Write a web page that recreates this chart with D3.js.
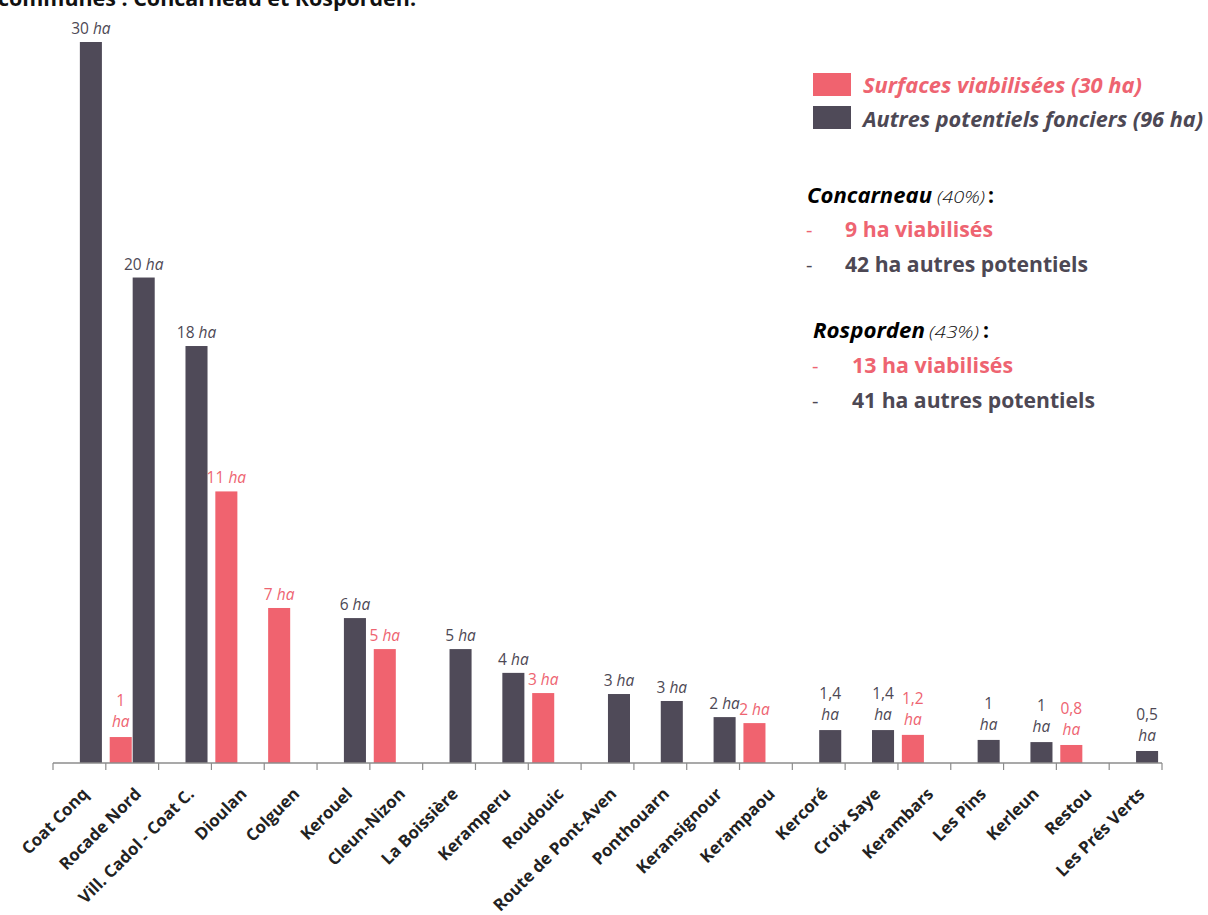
<!DOCTYPE html>
<html><head><meta charset="utf-8">
<script src="https://cdn.jsdelivr.net/npm/d3@7"></script>
<style>
html,body{margin:0;padding:0;background:#fff;}
svg{display:block;}
text{font-family:"Open Sans","Noto Sans",sans-serif;}
</style></head>
<body>
<svg id="chart" width="1208" height="915"></svg>
<script>
const categories = ["Coat Conq","Rocade Nord","Vill. Cadol - Coat C.","Dioulan","Colguen","Kerouel","Cleun-Nizon","La Boissière","Keramperu","Roudouic","Route de Pont-Aven","Ponthouarn","Keransignour","Kerampaou","Kercoré","Croix Saye","Kerambars","Les Pins","Kerleun","Restou","Les Prés Verts"];
// Surfaces viabilisées (pink)
const viabilisees = [null,1.08,null,11.3,6.45,null,4.74,null,null,2.91,null,null,null,1.66,null,null,1.17,null,null,0.75,null];
const viabLabels  = ["","1","","11","7","","5","","","3","","","","2","","","1,2","","","0,8",""];
// Autres potentiels fonciers (dark)
const autres = [30,20.2,17.35,null,null,6.03,null,4.74,3.75,null,2.87,2.58,1.91,null,1.37,1.37,null,0.96,0.87,null,0.5];
const autresLabels = ["30","20","18","","","6","","5","4","","3","3","2","","1,4","1,4","","1","1","","0,5"];
const yDomain = [0, 30];
const legendItems = ["Surfaces viabilisées (30 ha)","Autres potentiels fonciers (96 ha)"];

const PINK = "#f0636f", DARK = "#4f4a58";
const PINK_TXT = "#ee6471", DARK_TXT = "#4d4854";

const svg = d3.select("#chart");

// title (cut off at top, as in the source image)
svg.append("text").attr("x", -2).attr("y", 6)
  .attr("font-size", 22).attr("font-weight", 700).attr("fill", "#111")
  .attr("textLength", 418).attr("lengthAdjust", "spacingAndGlyphs")
  .text("communes : Concarneau et Rosporden.");

const x = d3.scaleBand().domain(categories).range([53, 1162]).padding(0);
const sub = d3.scaleBand().domain(["viab","autres"]).range([0, x.bandwidth()]).paddingInner(0.04).paddingOuter(0.17);
const y = d3.scaleLinear().domain(yDomain).range([763, 42]);

const rows = categories.map((c, i) => ({c, i}));

function drawSeries(values, labels, key, color, txtColor) {
  const data = rows.filter(r => values[r.i] != null).map(r => ({c: r.c, v: values[r.i], lab: labels[r.i]}));
  svg.append("g").selectAll("rect").data(data).join("rect")
    .attr("x", d => x(d.c) + sub(key))
    .attr("width", sub.bandwidth())
    .attr("y", d => y(d.v))
    .attr("height", d => y(0) - y(d.v))
    .attr("fill", color);
  const g = svg.append("g").attr("fill", txtColor).attr("font-size", 15.5).attr("text-anchor", "middle");
  data.forEach(d => {
    const cx = x(d.c) + sub(key) + sub.bandwidth() / 2;
    const top = y(d.v);
    if (d.v < 1.5 && d.lab !== "2") {
      g.append("text").attr("x", cx).attr("y", top - 31).text(d.lab);
      g.append("text").attr("x", cx).attr("y", top - 10).attr("font-style", "italic").text("ha");
    } else {
      const t = g.append("text").attr("x", cx).attr("y", top - 8);
      t.append("tspan").text(d.lab + " ");
      t.append("tspan").attr("font-style", "italic").text("ha");
    }
  });
}
drawSeries(autres, autresLabels, "autres", DARK, DARK_TXT);
drawSeries(viabilisees, viabLabels, "viab", PINK, PINK_TXT);

// axis with ticks at band boundaries
const axis = svg.append("g").attr("stroke", "#8c8c8c");
axis.append("line").attr("x1", x.range()[0]).attr("x2", x.range()[1]).attr("y1", y(0)).attr("y2", y(0)).attr("stroke-width", 1.5);
const bounds = categories.map(c => x(c)).concat([x.range()[1]]);
axis.selectAll("line.t").data(bounds).join("line").attr("class", "t")
  .attr("x1", d => d).attr("x2", d => d).attr("y1", y(0)).attr("y2", y(0) + 7).attr("stroke-width", 1.2);

// rotated category labels
svg.append("g").selectAll("text").data(categories).join("text")
  .attr("transform", c => `translate(${x(c) + x.bandwidth() / 2 + 10},${y(0) + 32}) rotate(-45)`)
  .attr("text-anchor", "end").attr("font-size", 16.8).attr("font-weight", 700).attr("fill", "#222")
  .text(c => c);

// legend
const legColors = [PINK, DARK], legTxt = [PINK_TXT, DARK_TXT], legW = [279, 340];
legendItems.forEach((t, i) => {
  svg.append("rect").attr("x", 813).attr("y", 73 + i * 33).attr("width", 38).attr("height", 23).attr("fill", legColors[i]);
  svg.append("text").attr("x", 863).attr("y", 93 + i * 34).attr("font-size", 20.5).attr("font-weight", 700)
    .attr("font-style", "italic").attr("fill", legTxt[i])
    .attr("textLength", legW[i]).attr("lengthAdjust", "spacingAndGlyphs").text(t);
});

// annotation blocks
function txt(xp, yp, s, opts) {
  const t = svg.append("text").attr("x", xp).attr("y", yp).text(s)
    .attr("font-size", opts.size).attr("fill", opts.fill)
    .attr("font-weight", opts.weight || 400).attr("font-style", opts.italic ? "italic" : "normal");
  if (opts.w) t.attr("textLength", opts.w).attr("lengthAdjust", "spacingAndGlyphs");
  return t;
}
// Concarneau
txt(807, 203, "Concarneau", {size: 21, fill: "#000", weight: 700, italic: true, w: 125});
txt(937, 203, "(40%)", {size: 17, fill: "#111", weight: 300, italic: true, w: 48});
txt(988, 203, ":", {size: 21, fill: "#000", weight: 700});
txt(806, 237, "-", {size: 20, fill: PINK_TXT});
txt(845, 237, "9 ha viabilisés", {size: 20.5, fill: PINK_TXT, weight: 700, w: 148});
txt(806, 272, "-", {size: 20, fill: DARK_TXT});
txt(845, 272, "42 ha autres potentiels", {size: 20.5, fill: DARK_TXT, weight: 700, w: 243});
// Rosporden
txt(813, 338, "Rosporden", {size: 21, fill: "#000", weight: 700, italic: true, w: 112});
txt(929, 338, "(43%)", {size: 17, fill: "#111", weight: 300, italic: true, w: 50});
txt(983, 338, ":", {size: 21, fill: "#000", weight: 700});
txt(812, 373, "-", {size: 20, fill: PINK_TXT});
txt(852, 373, "13 ha viabilisés", {size: 20.5, fill: PINK_TXT, weight: 700, w: 161});
txt(812, 408, "-", {size: 20, fill: DARK_TXT});
txt(852, 408, "41 ha autres potentiels", {size: 20.5, fill: DARK_TXT, weight: 700, w: 243});
</script>
</body></html>
